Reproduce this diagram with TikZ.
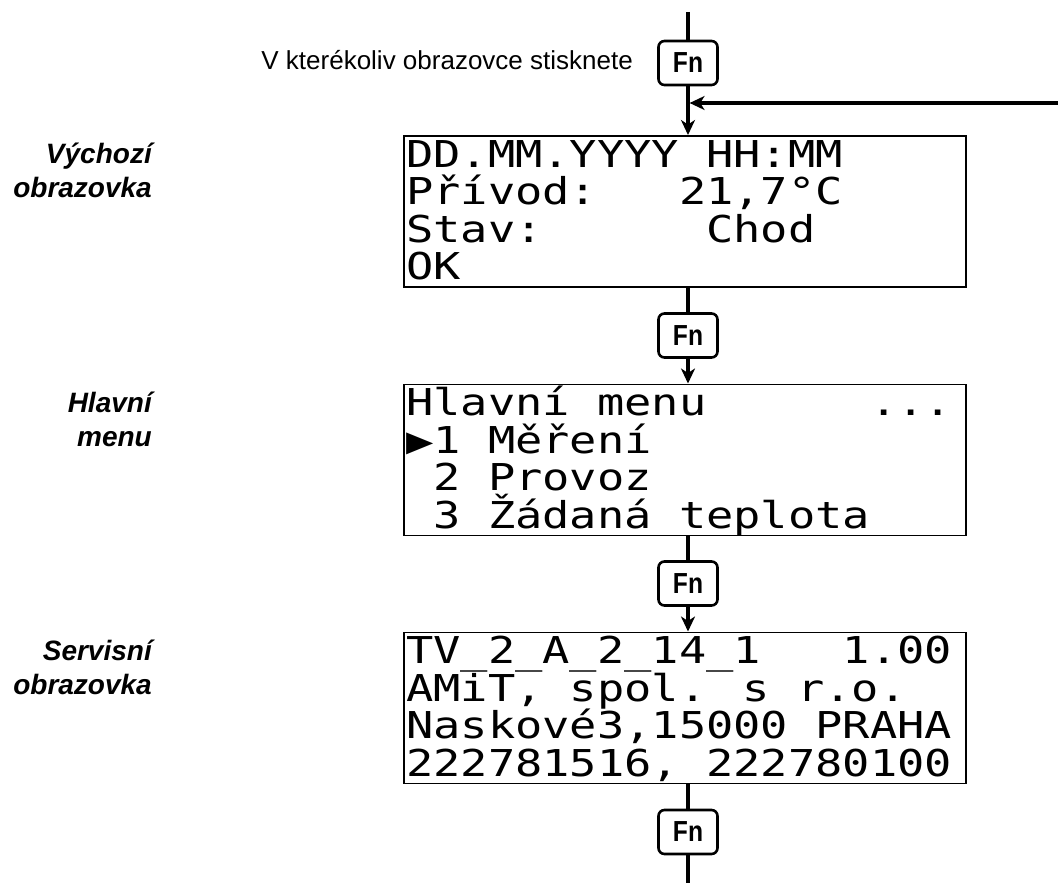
\documentclass[tikz,border=0pt]{standalone}
\usepackage{fontspec}
\setmainfont{Liberation Sans}
\newfontfamily\lcdfont[FakeStretch=1.225]{DejaVu Sans Mono}
\newfontfamily\fnfont[FakeStretch=0.85]{Liberation Sans}
\usetikzlibrary{arrows.meta}
\begin{document}
\begin{tikzpicture}[x=1pt,y=-1pt,
  fnbox/.style={draw, line width=2.6pt, rounded corners=6pt, minimum width=59pt, minimum height=44pt, inner sep=0pt, font=\fnfont\bfseries\fontsize{29}{29}\selectfont},
  screen/.style={draw, line width=1.6pt, minimum width=562pt, minimum height=151pt, inner sep=0pt, anchor=north west},
  lcd/.style={anchor=base west, inner sep=0pt, font=\lcdfont\fontsize{37}{37}\selectfont},
  flow/.style={line width=3.3pt},
  arr/.style={flow, -{Stealth[length=15pt,width=14pt,inset=4.5pt]}},
  sidelabel/.style={align=right, anchor=east, inner sep=0pt, font=\fontsize{28}{34}\selectfont\bfseries\itshape},
  note/.style={anchor=base east, inner sep=0pt, font=\fontsize{26}{26}\selectfont}]
\useasboundingbox (0,0) rectangle (1058,883);

% Fn keys
\node[fnbox] (fn1) at (688,63) {Fn};
\node[fnbox] (fn2) at (688,335.5) {Fn};
\node[fnbox] (fn3) at (688,583.5) {Fn};
\node[fnbox] (fn4) at (688,832) {Fn};

% screens
\node[screen] (s1) at (403,135) {};
\node[screen] (s2) at (403,383.5) {};
\node[screen] (s3) at (403,631.5) {};

% screen texts
\begin{scope}
\clip (s1.north west) rectangle (s1.south east);
\node[lcd] (s1a) at (406,167) {DD.MM.YYYY HH:MM};
\node[lcd] (s1b) at (406,204.5) {Přívod:\ \ \ 21,7°C};
\node[lcd] (s1c) at (406,242) {Stav:\ \ \ \ \ \ Chod};
\node[lcd] (s1d) at (406,279.5) {OK};
\end{scope}
\begin{scope}
\clip (s2.north west) rectangle (s2.south east);
\node[lcd] (s2a) at (406,415.5) {Hlavní menu\ \ \ \ \ \ ...};
\node[lcd] (s2b) at (406,453) {▶1 Měření};
\node[lcd] (s2c) at (406,490.5) {\ 2 Provoz};
\node[lcd] (s2d) at (406,528) {\ 3 Žádaná teplota};
\end{scope}
\begin{scope}
\clip (s3.north west) rectangle (s3.south east);
\node[lcd] (s3a) at (406,663.5) {TV\_2\_A\_2\_14\_1\ \ \ 1.00};
\node[lcd] (s3b) at (406,701) {AMiT, spol. s r.o.};
\node[lcd] (s3c) at (406,738.5) {Naskové3,15000 PRAHA};
\node[lcd] (s3d) at (406,776) {222781516, 222780100};
\end{scope}

% labels
\node[note] (instr) at (633,70) {V kterékoliv obrazovce stisknete};
\node[sidelabel] (l1) at (152,170) {Výchozí\\obrazovka};
\node[sidelabel] (l2) at (152,419) {Hlavní\\menu};
\node[sidelabel] (l3) at (152,667) {Servisní\\obrazovka};

% connectors
\coordinate (top) at (688,12);
\coordinate (bottom) at (688,883);
\coordinate (ret) at (1058,103);
\coordinate (join) at (fn1.south |- ret);
\draw[flow] (top) -- (fn1.north);
\draw[arr] (fn1.south) -- (s1.north -| fn1.south);
\draw[arr] (ret) -- ([xshift=1.6pt]join);
\draw[flow] (s1.south -| fn2.north) -- (fn2.north);
\draw[arr] (fn2.south) -- (s2.north -| fn2.south);
\draw[flow] (s2.south -| fn3.north) -- (fn3.north);
\draw[arr] (fn3.south) -- (s3.north -| fn3.south);
\draw[flow] (s3.south -| fn4.north) -- (fn4.north);
\draw[flow] (fn4.south) -- (bottom);
\end{tikzpicture}
\end{document}
